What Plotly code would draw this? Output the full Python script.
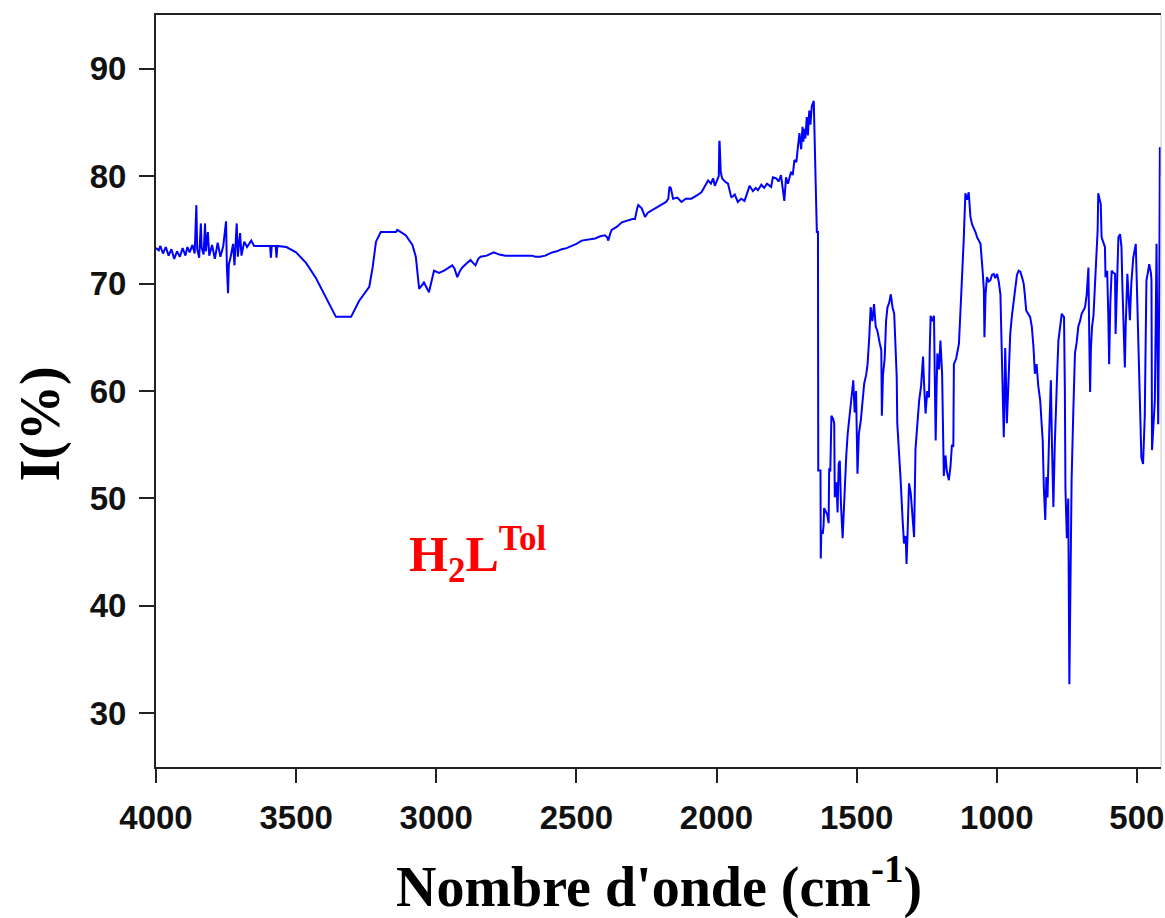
import plotly.graph_objects as go

# Wavenumber (cm^-1) and I (%)
wavenumber = [
    4000, 3990, 3985, 3975, 3965, 3955, 3945, 3935, 3925, 3915, 3905, 3895, 3888, 3880,
    3870, 3862, 3856, 3853, 3846, 3840, 3837, 3830, 3825, 3822, 3815, 3810, 3800, 3790,
    3780, 3770, 3760, 3750, 3747, 3743, 3740, 3735, 3725, 3720, 3712, 3708, 3700, 3695,
    3685, 3675, 3660, 3650, 3620, 3593, 3590, 3587, 3573, 3570, 3567, 3535, 3500, 3464,
    3429, 3393, 3358, 3304, 3275, 3239, 3227, 3215, 3198, 3144, 3139, 3109, 3085, 3073,
    3067, 3061, 3044, 3026, 3008, 2990, 2972, 2955, 2943, 2935, 2925, 2915, 2907, 2895,
    2878, 2868, 2860, 2850, 2842, 2820, 2795, 2775, 2753, 2700, 2659, 2646, 2630, 2611,
    2587, 2570, 2552, 2535, 2516, 2500, 2481, 2455, 2433, 2415, 2398, 2390, 2386, 2380,
    2374, 2355, 2338, 2300, 2291, 2283, 2279, 2267, 2260, 2255, 2245, 2232, 2215, 2196,
    2180, 2172, 2168, 2163, 2155, 2140, 2125, 2110, 2090, 2070, 2054, 2045, 2035, 2030,
    2020, 2012, 2006, 1998, 1992, 1990, 1989, 1985, 1980, 1970, 1959, 1947, 1935, 1924,
    1912, 1900, 1890, 1882, 1870, 1860, 1852, 1840, 1830, 1820, 1805, 1799, 1787, 1778,
    1770, 1762, 1758, 1752, 1745, 1734, 1728, 1722, 1715, 1710, 1704, 1698, 1693, 1690,
    1687, 1683, 1678, 1674, 1669, 1665, 1660, 1653, 1649, 1642, 1638, 1637, 1629, 1628,
    1626, 1621, 1618, 1616, 1605, 1600, 1598, 1594, 1590, 1584, 1580, 1578, 1572, 1568,
    1564, 1560, 1556, 1550, 1546, 1542, 1537, 1532, 1526, 1520, 1516, 1512, 1507, 1502,
    1497, 1492, 1485, 1480, 1473, 1466, 1461, 1455, 1450, 1444, 1438, 1432, 1426, 1418,
    1412, 1410, 1406, 1400, 1395, 1390, 1384, 1378, 1372, 1366, 1361, 1357, 1355, 1350,
    1343, 1336, 1331, 1325, 1322, 1318, 1313, 1307, 1300, 1295, 1290, 1284, 1277, 1270,
    1263, 1260, 1254, 1248, 1242, 1239, 1236, 1230, 1224, 1221, 1218, 1215, 1212, 1206,
    1201, 1195, 1192, 1189, 1183, 1178, 1171, 1165, 1160, 1155, 1153, 1145, 1135, 1130,
    1124, 1118, 1112, 1106, 1100, 1094, 1088, 1082, 1076, 1070, 1064, 1058, 1050, 1046,
    1044, 1040, 1035, 1029, 1023, 1017, 1011, 1005, 999, 993, 987, 981, 977, 975,
    972, 970, 967, 964, 958, 952, 946, 940, 934, 928, 922, 916, 910, 904,
    900, 895, 888, 881, 875, 869, 864, 858, 852, 845, 840, 836, 832, 827,
    823, 819, 813, 807, 803, 798, 793, 788, 784, 780, 774, 768, 764, 760,
    757, 755, 750, 745, 741, 737, 733, 727, 724, 721, 715, 709, 703, 697,
    691, 685, 679, 673, 670, 667, 664, 660, 655, 650, 644, 640, 638, 634,
    629, 626, 620, 614, 612, 606, 602, 599, 595, 590, 584, 578, 576, 572,
    566, 560, 555, 552, 549, 543, 540, 534, 530, 525, 520, 513, 504, 499,
    492, 486, 484, 478, 472, 469, 466, 461, 456, 450, 448, 446, 440, 436,
    433, 430, 427, 424, 420, 418, 415,
]

intensity = [
    73.3, 73.1, 73.5, 72.8, 73.4, 72.6, 73.2, 72.3, 73.0, 72.5, 73.3, 72.6, 73.4, 72.9,
    73.6, 72.8, 77.3, 73.2, 72.4, 75.6, 73.3, 72.7, 75.6, 73.0, 74.8, 72.6, 73.6, 72.3,
    73.8, 72.5, 73.5, 75.8, 71.5, 69.1, 71.8, 72.3, 73.7, 71.7, 75.6, 72.5, 74.7, 72.6,
    73.9, 73.4, 74.0, 73.5, 73.5, 73.5, 72.4, 73.5, 73.5, 72.4, 73.5, 73.4, 72.9, 71.9,
    70.5, 68.6, 66.9, 66.9, 68.4, 69.7, 71.5, 73.9, 74.8, 74.8, 75.0, 74.5, 73.6, 72.5,
    70.9, 69.5, 70.1, 69.2, 71.2, 71.0, 71.2, 71.5, 71.7, 71.4, 70.6, 71.2, 71.5, 71.8,
    72.2, 71.9, 71.7, 72.3, 72.5, 72.6, 72.9, 72.7, 72.6, 72.6, 72.6, 72.5, 72.5, 72.6,
    72.9, 73.0, 73.2, 73.3, 73.5, 73.7, 74.0, 74.1, 74.2, 74.4, 74.5, 74.3, 74.0, 74.6,
    75.0, 75.3, 75.7, 76.0, 76.0, 77.0, 77.3, 77.0, 76.4, 76.2, 76.6, 76.8, 77.0, 77.3,
    77.6, 77.9, 79.0, 78.9, 77.9, 78.0, 77.6, 77.9, 77.9, 78.2, 78.5, 78.9, 79.3, 79.6,
    79.3, 79.8, 79.1, 79.6, 80.0, 83.2, 83.2, 80.4, 79.8, 79.5, 79.3, 78.0, 78.3, 77.6,
    77.9, 77.7, 78.5, 79.1, 78.6, 78.9, 78.7, 79.2, 78.9, 79.3, 79.0, 79.9, 79.8, 79.5,
    80.1, 78.5, 77.7, 79.9, 79.3, 80.4, 80.1, 81.5, 81.3, 82.6, 84.0, 82.5, 84.6, 83.2,
    84.4, 83.5, 85.5, 83.8, 86.1, 84.8, 86.5, 87.0, 81.5, 74.8, 74.8, 52.6, 52.6, 44.4,
    47.0, 46.7, 47.5, 49.1, 48.5, 47.7, 52.8, 52.5, 57.7, 57.4, 57.0, 50.1, 51.5, 48.7,
    53.2, 53.5, 49.5, 46.3, 49.0, 52.0, 54.0, 56.0, 57.5, 59.1, 60.5, 61.0, 58.0, 60.0,
    52.3, 56.0, 57.3, 58.5, 60.7, 61.5, 62.5, 65.0, 67.8, 66.5, 68.1, 66.0, 65.6, 64.5,
    63.8, 57.7, 61.5, 63.0, 66.5, 67.8, 68.2, 69.0, 67.8, 67.2, 64.0, 61.3, 57.0, 55.0,
    51.7, 48.0, 45.8, 46.5, 43.9, 47.0, 51.4, 50.5, 47.5, 46.4, 54.6, 57.0, 59.1, 60.5,
    63.2, 61.0, 57.9, 60.0, 59.4, 64.0, 67.0, 66.5, 67.0, 61.0, 55.4, 60.0, 63.5, 62.0,
    64.7, 61.6, 56.0, 52.1, 54.0, 52.5, 51.7, 53.0, 55.0, 54.8, 62.5, 63.0, 64.4, 67.0,
    70.0, 74.0, 78.4, 77.8, 78.5, 76.2, 75.5, 75.2, 74.8, 74.3, 74.0, 73.7, 71.0, 69.4,
    65.0, 69.0, 70.6, 70.2, 70.3, 70.8, 70.9, 70.5, 70.9, 70.2, 69.0, 63.2, 59.0, 55.7,
    60.0, 64.0, 61.0, 57.0, 61.0, 65.3, 67.0, 68.4, 70.0, 70.8, 71.2, 71.1, 70.6, 70.0,
    69.0, 67.5, 67.2, 66.9, 66.0, 64.1, 61.6, 62.5, 60.5, 59.1, 57.0, 55.4, 51.0, 48.0,
    52.0, 50.1, 56.0, 61.0, 55.0, 49.2, 55.0, 60.4, 62.0, 64.7, 66.0, 67.2, 67.0, 66.9,
    60.0, 51.0, 46.3, 50.0, 32.7, 45.0, 51.7, 58.0, 61.0, 63.5, 64.5, 66.0, 66.5, 67.2,
    67.5, 67.8, 69.0, 71.5, 65.0, 59.9, 64.0, 66.0, 67.0, 70.0, 72.8, 75.0, 78.4, 78.0,
    77.4, 74.3, 73.8, 73.4, 70.6, 71.2, 67.0, 62.5, 68.0, 71.2, 71.0, 70.9, 65.3, 70.0,
    74.3, 74.6, 73.4, 70.0, 67.5, 62.2, 66.0, 70.9, 69.0, 66.6, 70.0, 72.4, 73.7, 68.4,
    62.0, 56.0, 53.8, 53.2, 57.6, 64.0, 70.3, 71.0, 71.8, 71.0, 70.3, 54.5, 57.0, 59.1,
    66.0, 73.7, 65.0, 56.9, 70.0, 82.7, 80.0,
]

x_ticks = [4000, 3500, 3000, 2500, 2000, 1500, 1000, 500]
y_ticks = [30, 40, 50, 60, 70, 80, 90]
x_title = "Nombre d'onde (cm<sup>-1</sup>)"
y_title = "I(%)"
label = "H<sub>2</sub>L<sup>Tol</sup>"

serif = "Liberation Serif, Times New Roman, serif"
sans = "Liberation Sans, Arial, sans-serif"

fig = go.Figure()
fig.add_trace(go.Scatter(
    x=wavenumber, y=intensity, mode="lines",
    line=dict(color="#0000FF", width=2),
    showlegend=False, hoverinfo="skip",
))

fig.update_layout(
    width=1165, height=918,
    margin=dict(l=156, r=1, t=15, b=151),
    paper_bgcolor="white", plot_bgcolor="white",
    xaxis=dict(
        range=[4000, 414], tickvals=x_ticks, ticktext=[str(v) for v in x_ticks],
        showgrid=False, zeroline=False, showline=True, linecolor="#222222", linewidth=2,
        mirror=True, ticks="outside", ticklen=14, tickwidth=2, tickcolor="#222222",
        tickfont=dict(family=sans, size=33, color="#111111", weight="bold"),
        ticklabelstandoff=6, ticklabeloverflow="allow",
    ),
    yaxis=dict(
        range=[25, 95], tickvals=y_ticks, ticktext=[str(v) for v in y_ticks],
        showgrid=False, zeroline=False, showline=True, linecolor="#222222", linewidth=2,
        mirror=False, ticks="outside", ticklen=15, tickwidth=2, tickcolor="#222222",
        tickfont=dict(family=sans, size=33, color="#111111", weight="bold"),
        ticklabelstandoff=6,
    ),
    shapes=[dict(type="line", xref="paper", yref="paper", x0=1, x1=1, y0=0, y1=1,
                 line=dict(color="#CCCCCC", width=1))],
    annotations=[
        dict(text=x_title, xref="paper", yref="paper", x=0.5, y=-0.154,
             xanchor="center", yanchor="middle", showarrow=False,
             font=dict(family=serif, size=56, color="#000000", weight="bold")),
        dict(text=y_title, xref="paper", yref="paper", x=-0.115, y=0.456,
             xanchor="center", yanchor="middle", showarrow=False, textangle=-90,
             font=dict(family=serif, size=56, color="#000000", weight="bold")),
        dict(text=label, xref="paper", yref="paper", x=0.250, y=0.282,
             xanchor="left", yanchor="middle", showarrow=False,
             font=dict(family=serif, size=50, color="#FF0000", weight="bold")),
    ],
)

fig.write_html("out.html")
